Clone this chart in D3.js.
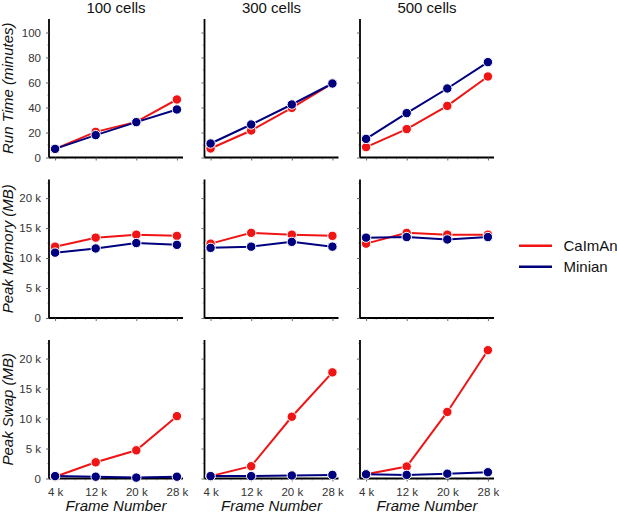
<!DOCTYPE html>
<html>
<head>
<meta charset="utf-8">
<script src="https://cdn.jsdelivr.net/npm/d3@7"></script>
<style>
  body { margin: 0; background: #fff; }
  svg { display: block; font-family: "Liberation Sans", Arial, sans-serif; }
</style>
</head>
<body>
<svg id="chart" width="617" height="513"></svg>
<script>
// data
var frames = [4, 12, 20, 28];
var cellCounts = ["100 cells", "300 cells", "500 cells"];
var rowLabels = ["Run Time (minutes)", "Peak Memory (MB)", "Peak Swap (MB)"];
var seriesNames = ["CaImAn", "Minian"];
var seriesColors = ["#f01414", "#00007f"];

// run time, minutes
var runTimeCaiman = [[6.9, 20.5, 28.5, 46.4], [7.2, 21.6, 39.7, 59.2], [8.3, 22.7, 41.3, 64.8]];
var runTimeMinian = [[6.9, 17.9, 28.3, 38.4], [11.2, 26.4, 42.4, 59.2], [14.9, 35.5, 55.2, 76.3]];
// peak memory, k MB
var memoryCaiman = [[11.9, 13.4, 13.9, 13.7], [12.4, 14.2, 13.9, 13.7], [12.4, 14.2, 13.9, 13.9]];
var memoryMinian = [[10.9, 11.6, 12.5, 12.2], [11.7, 11.9, 12.7, 11.9], [13.4, 13.5, 13.1, 13.5]];
// peak swap, k MB
var swapCaiman = [[0.3, 2.7, 4.7, 10.4], [0.4, 2.05, 10.3, 17.7], [0.7, 2.0, 11.1, 21.4]];
var swapMinian = [[0.4, 0.3, 0.15, 0.3], [0.4, 0.4, 0.5, 0.6], [0.7, 0.6, 0.8, 1.05]];

var runTicks = [0, 20, 40, 60, 80, 100];
var kTicks = [0, 5, 10, 15, 20];

var rows = [
  { label: rowLabels[0], max: 110.8, ticks: runTicks, minor: d3.range(10, 110, 20), fmt: function(d) { return d; },
    series: [runTimeCaiman, runTimeMinian] },
  { label: rowLabels[1], max: 23.1, ticks: kTicks, minor: d3.range(2.5, 23, 5), fmt: function(d) { return d === 0 ? "0" : d + " k"; },
    series: [memoryCaiman, memoryMinian] },
  { label: rowLabels[2], max: 23.1, ticks: kTicks, minor: d3.range(2.5, 23, 5), fmt: function(d) { return d === 0 ? "0" : d + " k"; },
    series: [swapCaiman, swapMinian] }
];

var padLeft = 49, colStep = 155.5, panelW = 134;
var padTop = 19, rowStep = 160.5, panelH = 138.5;

var svg = d3.select("#chart");

var x = d3.scaleLinear().domain([2.8, 29.2]).range([0, panelW]);
var xMinor = d3.range(6, 28, 2).filter(function(d) { return frames.indexOf(d) < 0; });

rows.forEach(function(row, r) {
  var y = d3.scaleLinear().domain([0, row.max]).range([panelH, 0]);
  var line = d3.line().x(function(d, i) { return x(frames[i]); }).y(function(d) { return y(d); });

  cellCounts.forEach(function(title, c) {
    var g = svg.append("g")
      .attr("transform", "translate(" + (padLeft + c * colStep) + "," + (padTop + r * rowStep) + ")");

    // minor ticks
    g.selectAll(".ymin").data(row.minor).enter().append("line")
      .attr("x1", -2).attr("x2", 0)
      .attr("y1", function(d) { return y(d); }).attr("y2", function(d) { return y(d); })
      .attr("stroke", "#aaa").attr("stroke-width", 0.8);
    g.selectAll(".xmin").data(xMinor).enter().append("line")
      .attr("x1", function(d) { return x(d); }).attr("x2", function(d) { return x(d); })
      .attr("y1", panelH).attr("y2", panelH + 2)
      .attr("stroke", "#aaa").attr("stroke-width", 0.8);

    var yAxis = d3.axisLeft(y).tickValues(row.ticks).tickSize(3).tickPadding(5)
      .tickFormat(c === 0 ? row.fmt : "");
    var ya = g.append("g").call(yAxis);
    var xAxis = d3.axisBottom(x).tickValues(frames).tickSize(3).tickPadding(6)
      .tickFormat(r === 2 ? function(d) { return d + " k"; } : "");
    var xa = g.append("g").attr("transform", "translate(0," + panelH + ")").call(xAxis);

    [ya, xa].forEach(function(a) {
      a.select(".domain").attr("stroke", "#000").attr("stroke-width", 1.8);
      a.selectAll(".tick line").attr("stroke", "#555").attr("stroke-width", 0.9);
      a.selectAll(".tick text").attr("fill", "#333").style("font-size", "11.5px");
    });
    ya.select(".domain").attr("d", "M0," + panelH + "V0");
    xa.select(".domain").attr("d", "M0,0H" + panelW);

    row.series.forEach(function(s, k) {
      var vals = s[c];
      g.append("path").datum(vals)
        .attr("d", line)
        .attr("fill", "none")
        .attr("stroke", seriesColors[k])
        .attr("stroke-width", 2);
      g.selectAll(".pt" + k).data(vals).enter().append("circle")
        .attr("cx", function(d, i) { return x(frames[i]); })
        .attr("cy", function(d) { return y(d); })
        .attr("r", 4.7)
        .attr("fill", seriesColors[k])
        .attr("stroke", "#fff")
        .attr("stroke-width", 1);
    });

    if (r === 0) {
      g.append("text")
        .attr("x", panelW / 2).attr("y", -6.5)
        .attr("text-anchor", "middle")
        .style("font-size", "15px")
        .attr("fill", "#111")
        .text(title);
    }
    if (r === 2) {
      g.append("text")
        .attr("x", panelW / 2).attr("y", panelH + 32.5)
        .attr("text-anchor", "middle")
        .style("font-size", "15px").style("font-style", "italic")
        .attr("fill", "#111")
        .text("Frame Number");
    }
  });

  svg.append("text")
    .attr("transform", "translate(13," + (padTop + r * rowStep + panelH / 2) + ") rotate(-90)")
    .attr("text-anchor", "middle")
    .style("font-size", "15px").style("font-style", "italic")
    .attr("fill", "#111")
    .text(row.label);
});

// legend
var legend = svg.append("g").attr("transform", "translate(519,245.7)");
seriesNames.forEach(function(name, k) {
  var lg = legend.append("g").attr("transform", "translate(0," + (k * 21) + ")");
  lg.append("line").attr("x1", 0).attr("x2", 33).attr("y1", 0).attr("y2", 0)
    .attr("stroke", seriesColors[k]).attr("stroke-width", 2.5);
  lg.append("text").attr("x", 44.5).attr("y", 5.5)
    .style("font-size", "15px").attr("fill", "#111")
    .text(name);
});
</script>
</body>
</html>
